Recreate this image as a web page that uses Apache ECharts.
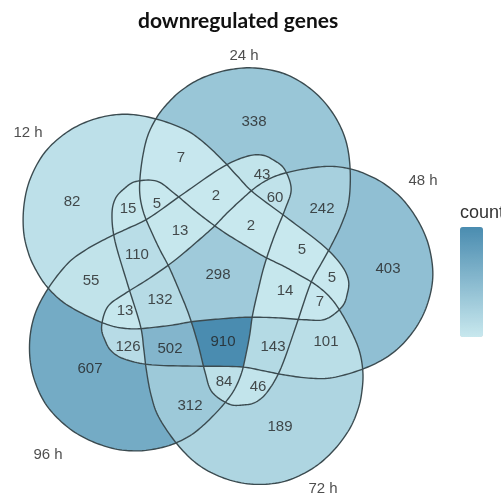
<!DOCTYPE html>
<html>
<head>
<meta charset="utf-8">
<script src="https://cdn.jsdelivr.net/npm/echarts@6/dist/echarts.min.js"></script>
<style>
  html, body { margin: 0; padding: 0; background: #fff; }
  #chart { width: 501px; height: 495px; }
</style>
</head>
<body>
<div id="chart"></div>
<script>
// sets, in legend order
const setNames = ['12 h', '24 h', '48 h', '72 h', '96 h']
const setLabelX = [28, 244, 423, 323, 48]
const setLabelY = [133, 56, 181, 489, 455]

// region counts and where each number sits
const regionCounts = [338, 7, 43, 60, 242, 82, 15, 5, 2, 2, 13, 110, 5, 298, 403, 55, 5, 14, 132, 13, 7, 126, 502, 910, 143, 101, 607, 84, 46, 312, 189]
const regionX = [254, 181, 262, 275, 322, 72, 128, 157, 216, 251, 180, 137, 302, 218, 388, 91, 332, 285, 160, 125, 320, 128, 170, 223, 273, 326, 90, 224, 258, 190, 280]
const regionY = [122, 158, 175, 198, 209, 202, 209, 204, 196, 226, 231, 255, 250, 275, 269, 281, 278, 291, 300, 311, 302, 347, 349, 342, 347, 342, 369, 382, 387, 406, 427]

// colour bar
const countMin = 2
const countMax = 910
const legendTicks = [250, 500, 750]

// one set outline (24 h); the others are the same shape turned by 72 deg
const shapeCenter = [218.6, 277.6]
const setAngles = [-72, 0, 72, 144, 216]
const outline = [
  [157, 117], [168, 103], [182, 90], [202, 78], [228, 70], [255, 68], [285, 74], [312, 90],
  [332, 112], [345, 138], [350, 167], [349, 200], [342, 223], [331, 246], [321, 264], [310, 285],
  [296, 326], [281, 368], [268, 391], [256, 402], [243, 405], [229, 404], [212, 392], [205, 372],
  [198, 344], [189, 315], [179, 290], [169, 267], [160, 250], [152, 233], [144, 214], [140, 196],
  [140, 178], [143, 155], [148, 135]
]

function smoothClosed(pts, n) {
  const out = []
  const m = pts.length
  for (let i = 0; i < m; i++) {
    const p0 = pts[(i - 1 + m) % m], p1 = pts[i], p2 = pts[(i + 1) % m], p3 = pts[(i + 2) % m]
    for (let k = 0; k < n; k++) {
      const t = k / n, t2 = t * t, t3 = t2 * t
      out.push([0, 1].map(j => 0.5 * (2 * p1[j] + (p2[j] - p0[j]) * t +
        (2 * p0[j] - 5 * p1[j] + 4 * p2[j] - p3[j]) * t2 +
        (3 * p1[j] - p0[j] - 3 * p2[j] + p3[j]) * t3)))
    }
  }
  return out
}

function turn(p, deg) {
  const a = deg * Math.PI / 180
  const dx = p[0] - shapeCenter[0], dy = p[1] - shapeCenter[1]
  return [shapeCenter[0] + dx * Math.cos(a) - dy * Math.sin(a),
          shapeCenter[1] + dx * Math.sin(a) + dy * Math.cos(a)]
}

const base = smoothClosed(outline, 10)
const shapes = setAngles.map(a => base.map(p => turn(p, a)))

function inside(poly, x, y) {
  let c = false
  for (let i = 0, j = poly.length - 1; i < poly.length; j = i++) {
    const [xi, yi] = poly[i], [xj, yj] = poly[j]
    if ((yi > y) !== (yj > y) && x < (xj - xi) * (y - yi) / (yj - yi) + xi) c = !c
  }
  return c
}
function codeAt(x, y) {
  let code = 0
  shapes.forEach((s, i) => { if (inside(s, x, y)) code |= 1 << i })
  return code
}

// which region each number belongs to
const countByCode = {}
regionCounts.forEach((v, i) => {
  countByCode[codeAt(regionX[i], regionY[i])] = v
})

// fill runs, one pixel row at a time
const runs = []
for (let y = 60; y < 485; y++) {
  const yc = y + 0.5
  const cuts = [0, 501]
  shapes.forEach(s => {
    for (let i = 0, j = s.length - 1; i < s.length; j = i++) {
      const [xi, yi] = s[i], [xj, yj] = s[j]
      if ((yi > yc) !== (yj > yc)) cuts.push(xi + (xj - xi) * (yc - yi) / (yj - yi))
    }
  })
  cuts.sort((a, b) => a - b)
  for (let k = 0; k < cuts.length - 1; k++) {
    const a = cuts[k], b = cuts[k + 1]
    if (b - a < 0.01) continue
    const code = codeAt((a + b) / 2, yc)
    const v = countByCode[code]
    if (!code || v === undefined) continue
    const last = runs[runs.length - 1]
    if (last && last[2] === y && last[3] === v && Math.abs(last[1] - a) < 0.01) last[1] = b
    else runs.push([a, b, y, v])
  }
}

const barTop = 227
const barHeight = 110
const tickMarks = []
legendTicks.forEach(v => {
  const y = barTop + (1 - (v - countMin) / (countMax - countMin)) * barHeight
  tickMarks.push({ type: 'line', shape: { x1: 460, y1: y, x2: 464, y2: y }, style: { stroke: '#fff', lineWidth: 1 } })
  tickMarks.push({ type: 'line', shape: { x1: 479, y1: y, x2: 483, y2: y }, style: { stroke: '#fff', lineWidth: 1 } })
})

const chart = echarts.init(document.getElementById('chart'))
chart.setOption({
  animation: false,
  backgroundColor: '#fff',
  title: {
    text: 'downregulated genes',
    left: 133,
    top: 6,
    textStyle: { fontFamily: 'Lato', fontWeight: 'bold', fontSize: 21, color: '#111' }
  },
  graphic: [
    { type: 'text', left: 460, top: 204, style: { text: 'count', font: '18px "Liberation Sans"', fill: '#333' } },
    ...tickMarks
  ],
  grid: { left: 0, top: 0, width: 501, height: 495 },
  xAxis: { type: 'value', min: 0, max: 501, show: false },
  yAxis: { type: 'value', min: 0, max: 495, inverse: true, show: false },
  visualMap: {
    type: 'continuous',
    min: countMin,
    max: countMax,
    dimension: 3,
    seriesIndex: 0,
    left: 460,
    top: barTop,
    padding: 0,
    itemWidth: 23,
    itemHeight: barHeight,
    calculable: false,
    inRange: { color: ['#c8e8ee', '#4a8cb0'] }
  },
  series: [
    {
      type: 'custom',
      data: runs,
      renderItem(params, api) {
        const p0 = api.coord([api.value(0), api.value(2)])
        const p1 = api.coord([api.value(1), api.value(2) + 1])
        return {
          type: 'rect',
          shape: { x: p0[0], y: p0[1], width: p1[0] - p0[0], height: p1[1] - p0[1] },
          style: { fill: api.visual('color') }
        }
      }
    },
    {
      type: 'custom',
      data: setNames.map((n, i) => [i]),
      renderItem(params, api) {
        return {
          type: 'polygon',
          shape: { points: shapes[params.dataIndex].map(p => api.coord(p)) },
          style: { fill: 'none', stroke: '#3b4b50', lineWidth: 1.4 }
        }
      }
    },
    {
      type: 'scatter',
      symbolSize: 0,
      data: regionCounts.map((v, i) => [regionX[i], regionY[i], v]),
      label: {
        show: true,
        position: 'inside',
        formatter: p => p.value[2],
        fontFamily: 'Liberation Sans',
        fontSize: 15,
        color: '#222'
      }
    },
    {
      type: 'scatter',
      symbolSize: 0,
      data: setNames.map((n, i) => ({ name: n, value: [setLabelX[i], setLabelY[i]] })),
      label: {
        show: true,
        position: 'inside',
        formatter: p => p.name,
        fontFamily: 'Liberation Sans',
        fontSize: 15,
        color: '#222'
      }
    }
  ]
})
</script>
</body>
</html>
